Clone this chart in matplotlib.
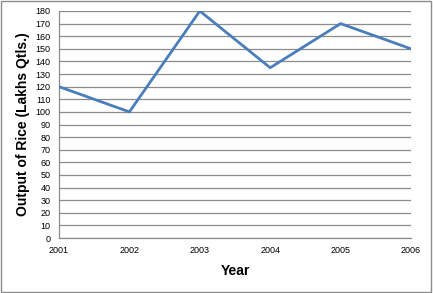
import matplotlib
matplotlib.use("Agg")
import matplotlib.pyplot as plt
from matplotlib.patches import Rectangle

years = ["2001", "2002", "2003", "2004", "2005", "2006"]
output = [120, 100, 180, 135, 170, 150]
yticks = list(range(0, 181, 10))

plt.rcParams['font.family'] = ['Liberation Sans', 'DejaVu Sans']

fig = plt.figure(figsize=(4.33, 2.93), dpi=100)
ax = fig.add_axes([59/433, 55/293, (411-59)/433, (238-11)/293])

x = list(range(len(years)))
ax.plot(x, output, color='#4a7ebb', linewidth=2, zorder=3)
ax.set_xlim(0, len(years) - 1)
ax.set_ylim(0, 180)
ax.set_yticks(yticks)
ax.set_xticks(x)
ax.set_xticklabels(years)
ax.tick_params(axis='both', length=0, labelsize=6.5, colors='black')
ax.tick_params(axis='x', pad=6)
ax.tick_params(axis='y', pad=6)
ax.grid(axis='y', color='#8c8c8c', linewidth=0.9)
ax.set_axisbelow(True)
for s in ['top', 'right']:
    ax.spines[s].set_visible(False)
for s in ['left', 'bottom']:
    ax.spines[s].set_color('#8c8c8c')
    ax.spines[s].set_linewidth(0.9)
ax.set_xlabel('Year', fontsize=10, fontweight='bold', labelpad=6)
ax.set_ylabel('Output of Rice (Lakhs Qtls.)', fontsize=10, fontweight='bold', labelpad=4)

fig.patches.append(Rectangle((0.002, 0.004), 0.994, 0.992, transform=fig.transFigure,
                             fill=False, edgecolor='#8c8c8c', linewidth=1))
fig.savefig('out.png', dpi=100)
